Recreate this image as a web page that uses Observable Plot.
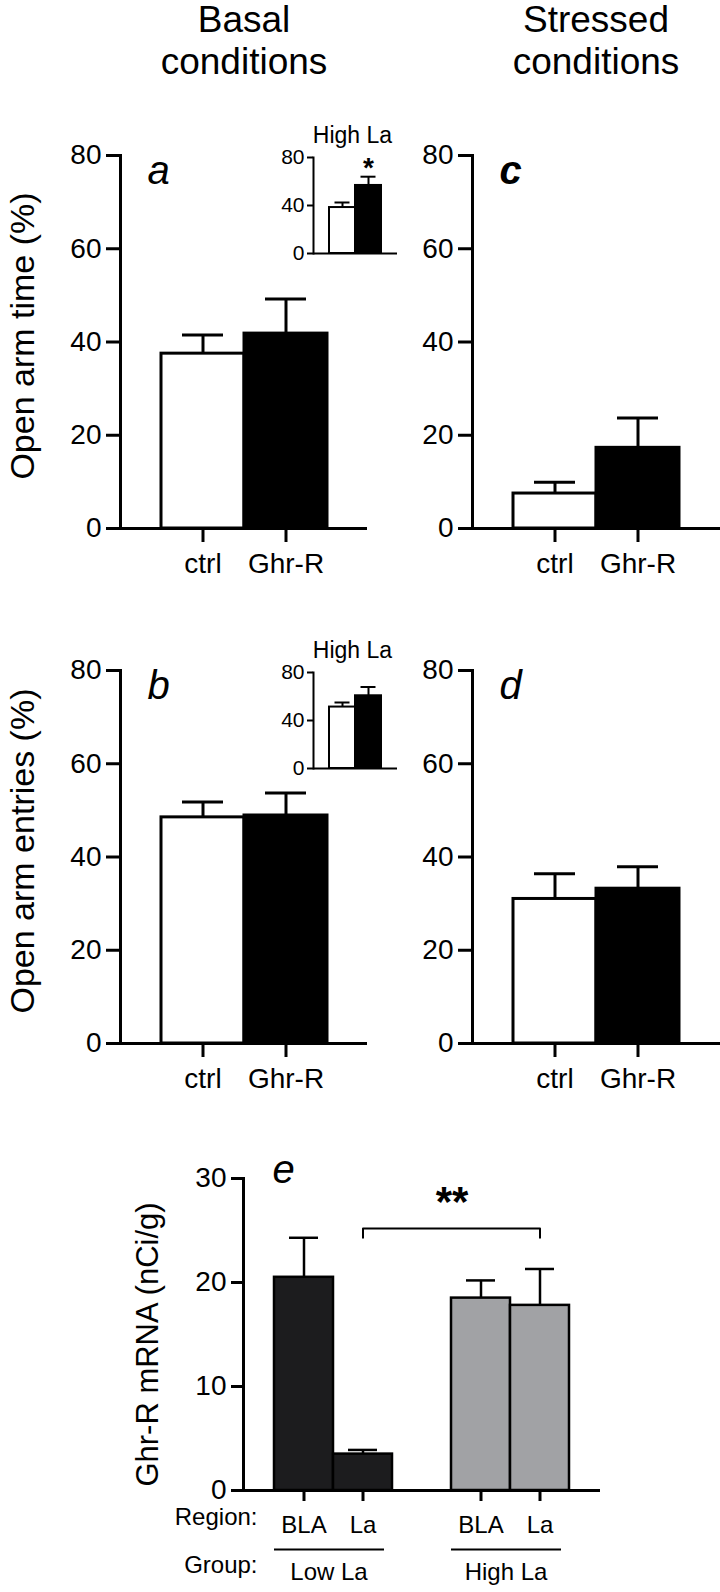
<!DOCTYPE html>
<html><head><meta charset="utf-8">
<script src="https://cdn.jsdelivr.net/npm/d3@7"></script>
<script src="https://cdn.jsdelivr.net/npm/@observablehq/plot@0.6"></script>
<style>
body{margin:0;background:#fff;}
#page{position:relative;width:720px;height:1592px;overflow:hidden;font-family:"Liberation Sans",Arial,sans-serif;color:#000;}
#page svg{position:absolute;overflow:visible;}
.title{position:absolute;font-size:37px;text-align:center;line-height:42px;width:320px;}
</style></head><body><div id="page">
<div class="title" style="left:84px;top:-1px">Basal<br>conditions</div>
<div class="title" style="left:436px;top:-1px">Stressed<br>conditions</div>
</div>
<script>
const FONT = '"Liberation Sans", Arial, sans-serif';
const groups = ["ctrl", "Ghr-R"];
const timeBasal = [37.5, 41.8], timeBasalErr = [4.0, 7.4];
const timeStress = [7.5, 17.3], timeStressErr = [2.4, 6.4];
const entBasal = [48.5, 48.9], entBasalErr = [3.3, 4.8];
const entStress = [31.0, 33.2], entStressErr = [5.4, 4.7];
const insetTime = [38.3, 56.7], insetTimeErr = [4.2, 7.3];
const insetEnt = [51.2, 60.6], insetEntErr = [3.8, 7.3];
const yTicksMain = [0, 20, 40, 60, 80];
const yTicksInset = [0, 40, 80];
const eGroups = ["Low La", "Low La", "High La", "High La"];
const eRegions = ["BLA", "La", "BLA", "La"];
const mrna = [20.5, 3.5, 18.5, 17.8];
const mrnaErr = [3.8, 0.4, 1.7, 3.5];
const yTicksE = [0, 10, 20, 30];
const bracketY = [24.3, 25.2];

const page = document.getElementById("page");
function place(svg, left, top) { svg.style.left = left + "px"; svg.style.top = top + "px"; page.appendChild(svg); }

function mainPanel({values, errs, letter, letterWeight, ylabel, left, top, width, marginRight}) {
  const data = groups.map((g, i) => ({group: g, value: values[i], err: errs[i]}));
  const marks = [
    Plot.axisY({ticks: yTicksMain, tickSize: 14, tickPadding: 5, strokeWidth: 3, label: null, fontSize: 28}),
    Plot.axisX({tickSize: 14, tickPadding: 11, strokeWidth: 3, label: null, fontSize: 28}),
    Plot.barY(data.filter(d => d.group === "ctrl"), {x: "group", y: "value", fill: "white", stroke: "black", strokeWidth: 3, inset: 0}),
    Plot.barY(data.filter(d => d.group !== "ctrl"), {x: "group", y: "value", fill: "black", stroke: "black", strokeWidth: 3, inset: 0}),
    Plot.ruleX(data, {x: "group", y1: "value", y2: d => d.value + d.err, strokeWidth: 3}),
    Plot.tickY(data, {x: "group", y: d => d.value + d.err, insetLeft: 21, insetRight: 21, strokeWidth: 3}),
    Plot.frame({anchor: "left", strokeWidth: 3}),
    Plot.ruleY([0], {insetLeft: -14, strokeWidth: 3}),
    Plot.text([letter], {frameAnchor: "top-left", textAnchor: "start", dx: 27, dy: 0, fontSize: 40, fontStyle: "italic", fontWeight: letterWeight})
  ];
  if (ylabel) marks.push(Plot.text([ylabel], {frameAnchor: "left", textAnchor: "middle", rotate: -90, dx: -97, dy: -6, fontSize: 34}));
  const svg = Plot.plot({
    width, height: 460, marginLeft: 120, marginTop: 25, marginBottom: 62, marginRight,
    style: {fontFamily: FONT, fontSize: "28px", color: "black", background: "transparent", overflow: "visible"},
    x: {domain: groups, paddingInner: 0, paddingOuter: 0.48},
    y: {domain: [0, 80]},
    marks
  });
  place(svg, left, top);
}

function insetPanel({values, errs, star, left, top}) {
  const data = groups.map((g, i) => ({group: g, value: values[i], err: errs[i]}));
  const marks = [
    Plot.axisY({ticks: yTicksInset, tickSize: 6, tickPadding: 3, strokeWidth: 2, label: null, fontSize: 21}),
    Plot.barY(data.filter(d => d.group === "ctrl"), {x: "group", y: "value", fill: "white", stroke: "black", strokeWidth: 2, inset: 0}),
    Plot.barY(data.filter(d => d.group !== "ctrl"), {x: "group", y: "value", fill: "black", stroke: "black", strokeWidth: 2, inset: 0}),
    Plot.ruleX(data, {x: "group", y1: "value", y2: d => d.value + d.err, strokeWidth: 2}),
    Plot.tickY(data, {x: "group", y: d => d.value + d.err, insetLeft: 5.5, insetRight: 5.5, strokeWidth: 2}),
    Plot.frame({anchor: "left", strokeWidth: 2}),
    Plot.ruleY([0], {strokeWidth: 2}),
    Plot.text(["High La"], {frameAnchor: "top", dx: -3, dy: -31, fontSize: 23})
  ];
  if (star) marks.push(Plot.text(data.filter(d => d.group !== "ctrl"), {x: "group", y: d => d.value + d.err, text: () => "*", dy: -9, fontSize: 28, fontWeight: "bold"}));
  const svg = Plot.plot({
    width: 140, height: 160, marginLeft: 43, marginTop: 47, marginBottom: 17, marginRight: 13,
    style: {fontFamily: FONT, fontSize: "21px", color: "black", background: "transparent", overflow: "visible"},
    x: {domain: groups, paddingInner: 0, paddingOuter: 0.556, axis: null},
    y: {domain: [0, 80]},
    marks
  });
  place(svg, left, top);
}

mainPanel({values: timeBasal, errs: timeBasalErr, letter: "a", letterWeight: "normal", ylabel: "Open arm time (%)", left: 0, top: 130, width: 380, marginRight: 13});
mainPanel({values: timeStress, errs: timeStressErr, letter: "c", letterWeight: "bold", ylabel: null, left: 352, top: 130, width: 368, marginRight: 0});
mainPanel({values: entBasal, errs: entBasalErr, letter: "b", letterWeight: "normal", ylabel: "Open arm entries (%)", left: 0, top: 645, width: 380, marginRight: 13});
mainPanel({values: entStress, errs: entStressErr, letter: "d", letterWeight: "normal", ylabel: null, left: 352, top: 645, width: 368, marginRight: 0});
insetPanel({values: insetTime, errs: insetTimeErr, star: true, left: 270, top: 110});
insetPanel({values: insetEnt, errs: insetEntErr, star: false, left: 270, top: 625});

// Panel e
const eKeys = eGroups.map((g, i) => g + "|" + eRegions[i]);
const eDomain = [eKeys[0], eKeys[1], "gap", eKeys[2], eKeys[3]];
const eData = eKeys.map((k, i) => ({key: k, group: eGroups[i], region: eRegions[i], value: mrna[i], err: mrnaErr[i]}));
const bracket = [
  {key: eKeys[1], y: bracketY[0]}, {key: eKeys[1], y: bracketY[1]},
  {key: eKeys[3], y: bracketY[1]}, {key: eKeys[3], y: bracketY[0]}
];
const eSvg = Plot.plot({
  width: 720, height: 472, marginLeft: 243, marginTop: 58, marginBottom: 102, marginRight: 120,
  style: {fontFamily: FONT, fontSize: "28px", color: "black", background: "transparent", overflow: "visible"},
  x: {domain: eDomain, paddingInner: 0, paddingOuter: 0.5},
  y: {domain: [0, 30]},
  marks: [
    Plot.axisY({ticks: yTicksE, tickSize: 12, tickPadding: 5, strokeWidth: 3, label: null, fontSize: 28}),
    Plot.axisX({ticks: eKeys, tickFormat: k => k.split("|")[1], tickSize: 11, tickPadding: 14, strokeWidth: 3, label: null, fontSize: 24}),
    Plot.barY(eData.filter(d => d.group === "Low La"), {x: "key", y: "value", fill: "#1c1c1e", stroke: "black", strokeWidth: 2.5, inset: 0}),
    Plot.barY(eData.filter(d => d.group === "High La"), {x: "key", y: "value", fill: "#a1a2a5", stroke: "black", strokeWidth: 2.5, inset: 0}),
    Plot.ruleX(eData, {x: "key", y1: "value", y2: d => d.value + d.err, strokeWidth: 2.5}),
    Plot.tickY(eData, {x: "key", y: d => d.value + d.err, insetLeft: 15, insetRight: 15, strokeWidth: 2.5}),
    Plot.line(bracket, {x: "key", y: "y", strokeWidth: 2}),
    Plot.text(eData.filter(d => d.region === "La" && d.group === "Low La"), {x: "key", y: () => bracketY[1], text: () => "**", dx: 89, dy: -26, fontSize: 42, fontWeight: "bold"}),
    Plot.frame({anchor: "left", strokeWidth: 3}),
    Plot.ruleY([0], {insetLeft: -10, strokeWidth: 3}),
    Plot.tickY(eData.filter(d => d.region === "BLA"), {x: "key", y: () => 0, dy: 59, strokeWidth: 2}),
    Plot.tickY(eData.filter(d => d.region === "La"), {x: "key", y: () => 0, dy: 59, insetRight: 8, strokeWidth: 2}),
    Plot.text(eData.filter(d => d.region === "La"), {x: "key", y: () => 0, text: "group", dx: -34, dy: 82, fontSize: 24}),
    Plot.text(["Region:"], {frameAnchor: "bottom-left", textAnchor: "end", dx: 14, dy: 34, fontSize: 24}),
    Plot.text(["Group:"], {frameAnchor: "bottom-left", textAnchor: "end", dx: 14, dy: 82, fontSize: 24}),
    Plot.text(["e"], {frameAnchor: "top-left", textAnchor: "start", dx: 29, dy: -24, fontSize: 40, fontStyle: "italic"}),
    Plot.text(["Ghr-R mRNA (nCi/g)"], {frameAnchor: "left", textAnchor: "middle", rotate: -90, dx: -95, dy: 10, fontSize: 31})
  ]
});
place(eSvg, 0, 1120);
</script>
</body></html>
